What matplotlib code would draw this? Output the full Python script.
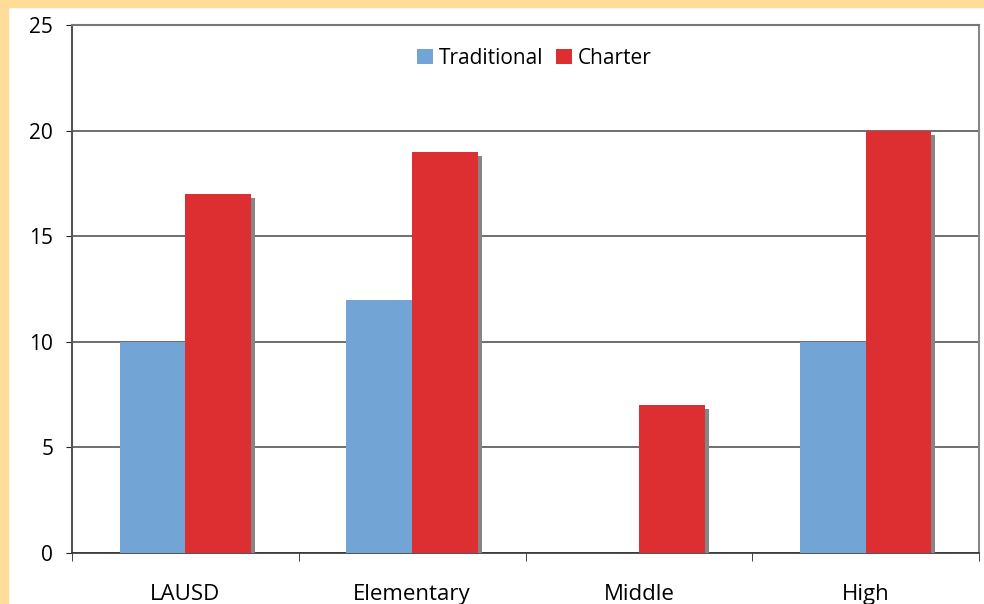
import matplotlib
matplotlib.use("Agg")
import matplotlib.pyplot as plt
import matplotlib.patheffects as pe
from matplotlib.patches import Rectangle
import numpy as np

categories = ["LAUSD", "Elementary", "Middle", "High"]
traditional = [10, 12, 0, 10]
charter = [17, 19, 7, 20]
yticks = [0, 5, 10, 15, 20, 25]

plt.rcParams['font.family'] = ['Open Sans', 'DejaVu Sans']

fig = plt.figure(figsize=(9.84, 6.04), dpi=100)
fig.patch.set_facecolor('white')
border = '#FFDD98'
fig.add_artist(Rectangle((0, 1 - 7/604), 1, 7/604, transform=fig.transFigure, color=border, zorder=0))
fig.add_artist(Rectangle((0, 0), 8/984, 1, transform=fig.transFigure, color=border, zorder=0))

ax = fig.add_axes([72/984, 51/604, (979-72)/984, (553-25)/604])
x = np.arange(len(categories))
w = 0.29
shadow = [pe.SimplePatchShadow(offset=(2.9, -2.9), shadow_rgbFace='#858585', alpha=1.0), pe.Normal()]
b1 = ax.bar(x - w/2, traditional, w, color='#72A4D6', label='Traditional', zorder=3)
b2 = ax.bar(x + w/2, charter, w, color='#DD2E31', label='Charter', zorder=4)
for p in list(b1) + list(b2):
    p.set_path_effects(shadow)

ax.set_xlim(-0.5, len(categories) - 0.5)
ax.set_ylim(0, 25)
ax.set_yticks(yticks)
ax.set_yticklabels([str(v) for v in yticks], fontsize=15)
ax.yaxis.grid(True, color='#555555', linewidth=1.2, zorder=1)
ax.set_axisbelow(True)

ax.set_xticks(x)
ax.set_xticklabels(categories, fontsize=16)
ax.set_xticks(np.arange(len(categories) + 1) - 0.5, minor=True)
ax.tick_params(axis='x', which='major', length=0, pad=22)
ax.tick_params(axis='x', which='minor', length=6, color='#222222', direction='out')
ax.tick_params(axis='y', length=4, color='#222222', pad=9.5)

ax.spines['left'].set_color('#555555')
ax.spines['left'].set_linewidth(1.5)
ax.spines['bottom'].set_color('#333333')
ax.spines['bottom'].set_linewidth(1.2)
ax.spines['top'].set_color('#777777')
ax.spines['top'].set_linewidth(1.5)
ax.spines['right'].set_color('#888888')
ax.spines['right'].set_linewidth(1.5)

leg = ax.legend(loc='upper center', bbox_to_anchor=(0.51, 0.992), ncol=2, frameon=False,
                fontsize=15, handlelength=0.75, handleheight=0.75, handletextpad=0.3, columnspacing=0.6)
for h in leg.legend_handles:
    h.set_path_effects([])

fig.savefig('out.png', dpi=100)
